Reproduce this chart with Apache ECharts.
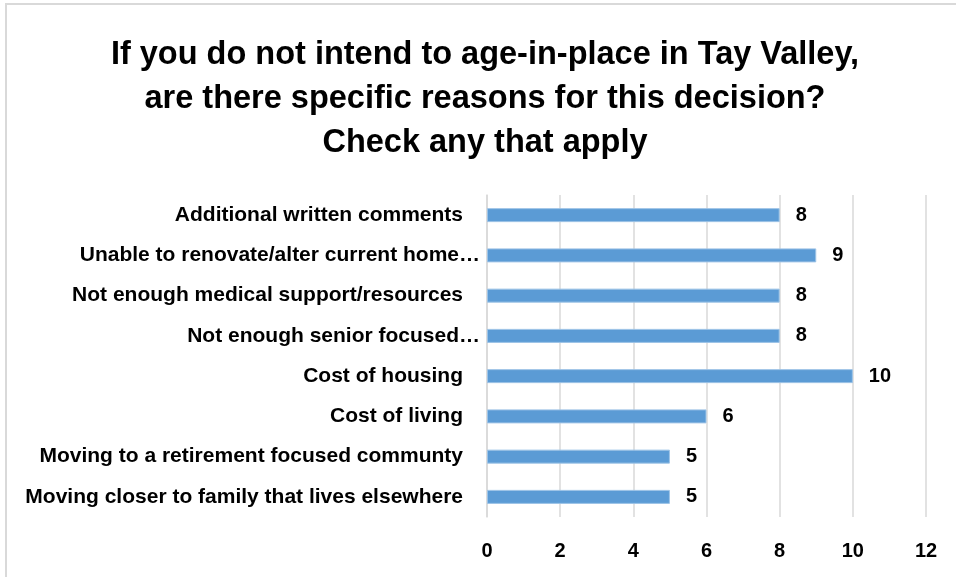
<!DOCTYPE html>
<html>
<head>
<meta charset="utf-8">
<script src="https://cdn.jsdelivr.net/npm/echarts@6/dist/echarts.min.js"></script>
<style>
  html, body { margin: 0; padding: 0; background: #ffffff; }
  #chart { width: 956px; height: 577px; }
</style>
</head>
<body>
<div id="chart"></div>
<script>
// Survey reasons, listed top to bottom
const reasons = [
  'Additional written comments',
  'Unable to renovate/alter current home…',
  'Not enough medical support/resources',
  'Not enough senior focused…',
  'Cost of housing',
  'Cost of living',
  'Moving to a retirement focused communty',
  'Moving closer to family that lives elsewhere'
];
const responses = [8, 9, 8, 8, 10, 6, 5, 5];
const axisTicks = [0, 2, 4, 6, 8, 10, 12];

const titleText = 'If you do not intend to age-in-place in Tay Valley,\nare there specific reasons for this decision?\nCheck any that apply';
const FONT = '"Liberation Sans", Arial, sans-serif';

const chart = echarts.init(document.getElementById('chart'));
chart.setOption({
  backgroundColor: '#ffffff',
  animation: false,
  graphic: [{
    type: 'rect',
    shape: { x: 6, y: 4, width: 1000, height: 700 },
    style: { fill: 'none', stroke: '#d9d9d9', lineWidth: 2 },
    silent: true
  }],
  title: {
    text: titleText,
    left: 480,
    top: 28,
    textAlign: 'center',
    textStyle: {
      fontFamily: FONT,
      fontSize: 32.5,
      fontWeight: 'bold',
      color: '#000000',
      lineHeight: 44
    }
  },
  grid: { left: 487, right: 30, top: 195, bottom: 60, containLabel: false },
  xAxis: {
    type: 'value',
    min: axisTicks[0],
    max: axisTicks[axisTicks.length - 1],
    interval: axisTicks[1] - axisTicks[0],
    axisLine: { show: false },
    axisTick: { show: false },
    splitLine: { lineStyle: { color: '#d9d9d9', width: 1.5 } },
    axisLabel: {
      margin: 24,
      fontFamily: FONT,
      fontSize: 20,
      fontWeight: 'bold',
      color: '#000000'
    }
  },
  yAxis: {
    type: 'category',
    inverse: true,
    data: reasons,
    axisLine: { show: true, lineStyle: { color: '#d9d9d9', width: 1.5 } },
    axisTick: { show: false },
    axisLabel: {
      margin: 7,
      fontFamily: FONT,
      fontSize: 21,
      fontWeight: 'bold',
      color: '#000000',
      formatter: function (v) {
        return v.endsWith('…') ? '{t|' + v + '}' : '{t|' + v + '}{s|}';
      },
      rich: {
        t: { fontFamily: FONT, fontSize: 21, fontWeight: 'bold', color: '#000000' },
        s: { width: 17 }
      }
    }
  },
  series: [{
    type: 'bar',
    data: responses,
    barWidth: 14,
    itemStyle: { color: '#5b9bd5', borderColor: '#9dc3e6', borderWidth: 1 },
    label: {
      show: true,
      position: 'right',
      distance: 16,
      fontFamily: FONT,
      fontSize: 20,
      fontWeight: 'bold',
      color: '#000000'
    }
  }]
});
</script>
</body>
</html>
